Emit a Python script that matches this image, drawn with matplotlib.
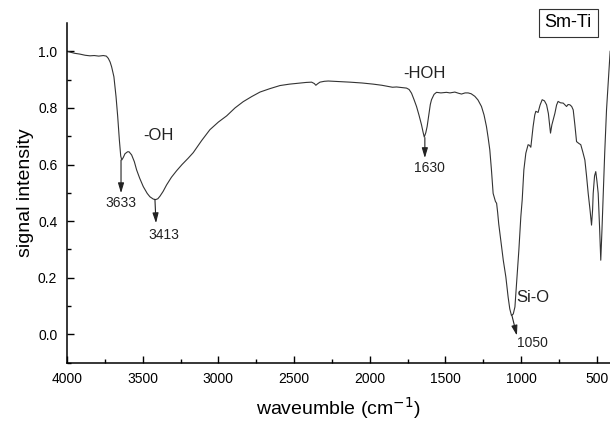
import numpy as np
from matplotlib import pyplot as plt

plt.rcParams['font.family'] = ['Liberation Sans', 'DejaVu Sans']

# wavenumber (cm-1) and signal
wavenumber = [4000, 3950, 3914, 3880, 3848, 3820, 3790, 3760, 3740, 3727, 3715, 3705,
              3690, 3676, 3665, 3654, 3645, 3638, 3628, 3617, 3600, 3590, 3573, 3555,
              3540, 3520, 3496, 3470, 3452, 3430, 3415, 3400, 3386, 3365, 3342, 3310,
              3276, 3240, 3200, 3166, 3110, 3056, 3000, 2945, 2890, 2836, 2780, 2725,
              2660, 2593, 2530, 2461, 2420, 2384, 2366, 2356, 2345, 2329, 2300, 2274,
              2200, 2131, 2050, 1977, 1920, 1878, 1850, 1823, 1790, 1757, 1740, 1724,
              1708, 1691, 1675, 1658, 1648, 1640, 1630, 1621, 1610, 1600, 1592, 1575,
              1559, 1530, 1493, 1470, 1438, 1415, 1394, 1370, 1350, 1330, 1306, 1285,
              1262, 1245, 1229, 1218, 1207, 1196, 1185, 1170, 1162, 1155, 1148, 1140,
              1128, 1118, 1101, 1086, 1075, 1064, 1052, 1041, 1030, 1015, 1002, 993,
              982, 969, 954, 945, 936, 928, 921, 910, 903, 888, 875, 861,
              846, 832, 820, 806, 797, 788, 777, 766, 756, 740, 722, 700,
              690, 678, 666, 656, 645, 634, 620, 606, 593, 579, 568, 557,
              545, 535, 528, 524, 515, 507, 499, 491, 482, 474, 466, 459,
              448, 436, 426, 418, 412]
signal = [1.000, 0.993, 0.990, 0.986, 0.984, 0.985, 0.983, 0.985, 0.983, 0.975, 0.962, 0.945,
          0.910, 0.840, 0.770, 0.687, 0.630, 0.616, 0.625, 0.638, 0.645, 0.645, 0.634, 0.610,
          0.581, 0.552, 0.522, 0.498, 0.486, 0.478, 0.476, 0.479, 0.488, 0.505, 0.528, 0.555,
          0.578, 0.600, 0.622, 0.642, 0.685, 0.723, 0.750, 0.772, 0.800, 0.822, 0.840, 0.856,
          0.868, 0.879, 0.884, 0.888, 0.890, 0.891, 0.886, 0.880, 0.885, 0.891, 0.894, 0.895,
          0.893, 0.891, 0.888, 0.884, 0.880, 0.876, 0.873, 0.874, 0.872, 0.870, 0.865, 0.852,
          0.830, 0.805, 0.775, 0.740, 0.715, 0.697, 0.712, 0.734, 0.775, 0.812, 0.829, 0.848,
          0.855, 0.853, 0.855, 0.853, 0.856, 0.852, 0.849, 0.853, 0.853, 0.850, 0.841, 0.828,
          0.805, 0.775, 0.734, 0.695, 0.652, 0.580, 0.498, 0.470, 0.463, 0.430, 0.390, 0.357,
          0.305, 0.262, 0.203, 0.132, 0.090, 0.067, 0.072, 0.097, 0.180, 0.298, 0.416, 0.475,
          0.581, 0.640, 0.670, 0.668, 0.661, 0.700, 0.734, 0.775, 0.788, 0.784, 0.810, 0.829,
          0.825, 0.811, 0.780, 0.711, 0.740, 0.758, 0.781, 0.810, 0.823, 0.818, 0.817, 0.805,
          0.812, 0.811, 0.805, 0.793, 0.740, 0.681, 0.675, 0.670, 0.645, 0.616, 0.560, 0.498,
          0.440, 0.386, 0.440, 0.498, 0.560, 0.575, 0.540, 0.498, 0.380, 0.262, 0.370, 0.475,
          0.640, 0.793, 0.880, 0.947, 1.000]

# peak labels: (text, arrow start, arrow tip)
peak_labels = ['3633', '3413', '1630', '1050']
peak_from = [(3643, 0.616), (3419, 0.477), (1636, 0.695), (1061, 0.067)]
peak_to = [(3643, 0.499), (3412, 0.393), (1636, 0.623), (1028, -0.004)]
peak_text_pos = [(3643, 0.464), (3359, 0.351), (1603, 0.588), (923, -0.032)]

group_labels = ['-OH', '-HOH', 'Si-O']
group_pos = [(3399, 0.701), (1636, 0.921), (923, 0.131)]

fig = plt.figure(figsize=(6.1, 4.21), dpi=100)
ax = fig.add_axes([0.1098, 0.1385, 0.8902, 0.8069])

ax.plot(wavenumber, signal, color='#333333', lw=0.8)

for lab, p0, p1, pt in zip(peak_labels, peak_from, peak_to, peak_text_pos):
    ax.annotate('', xy=p1, xytext=p0,
                arrowprops=dict(arrowstyle='-|>,head_length=0.6,head_width=0.18',
                                color='#222222', lw=0.8, shrinkA=0, shrinkB=0))
    ax.text(pt[0], pt[1], lab, ha='center', va='center', fontsize=10, color='#222222')

for lab, pt in zip(group_labels, group_pos):
    ax.text(pt[0], pt[1], lab, ha='center', va='center', fontsize=12, color='#222222')

ax.text(0.923, 1.0, 'Sm-Ti', transform=ax.transAxes, ha='center', va='center',
        fontsize=13, bbox=dict(boxstyle='square,pad=0.32', fc='white', ec='#333333', lw=0.8))

ax.set_xlim(4000, 413)
ax.set_ylim(-0.1, 1.1)
ax.set_xticks([4000, 3500, 3000, 2500, 2000, 1500, 1000, 500])
ax.set_xticks(np.arange(3750, 400, -500), minor=True)
ax.set_yticks([0.0, 0.2, 0.4, 0.6, 0.8, 1.0])
ax.set_yticks([-0.1, 0.1, 0.3, 0.5, 0.7, 0.9], minor=True)
ax.set_yticklabels(['0.0', '0.2', '0.4', '0.6', '0.8', '1.0'])

ax.spines['top'].set_visible(False)
ax.spines['right'].set_visible(False)
ax.spines['left'].set_linewidth(1.1)
ax.spines['bottom'].set_linewidth(1.1)
ax.tick_params(which='major', direction='in', length=5, width=1, labelsize=10, pad=7)
ax.tick_params(which='minor', direction='in', length=3, width=1)

ax.set_xlabel('waveumble (cm$^{-1}$)', fontsize=14, labelpad=6)
ax.set_ylabel('signal intensity', fontsize=14, labelpad=3)

fig.savefig('out.png', dpi=100)
